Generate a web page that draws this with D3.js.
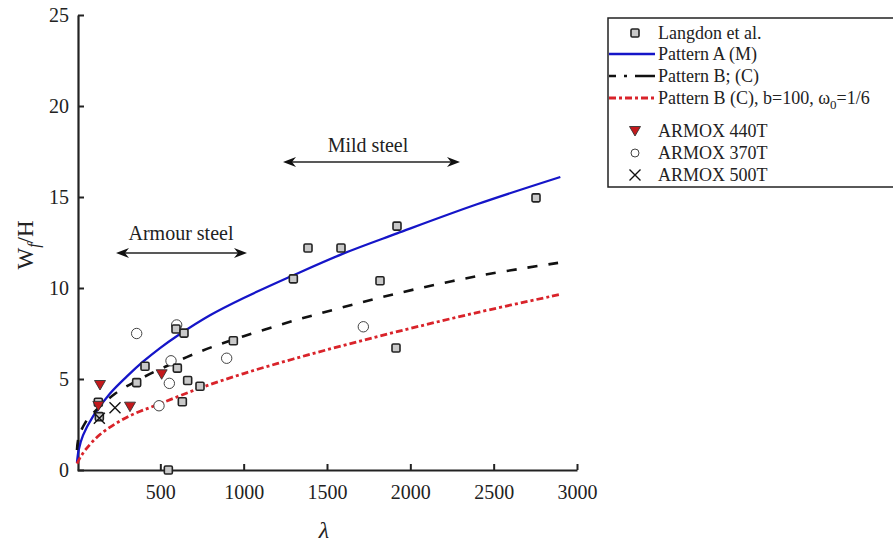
<!DOCTYPE html>
<html>
<head>
<meta charset="utf-8">
<script src="https://cdn.jsdelivr.net/npm/d3@7"></script>
<style>
  html, body { margin: 0; padding: 0; background: #fff; }
</style>
</head>
<body>
<svg id="chart" width="893" height="548"></svg>
<script>
// ---- data -------------------------------------------------------------
const xTicks = [500, 1000, 1500, 2000, 2500, 3000];
const yTicks = [0, 5, 10, 15, 20, 25];

// Langdon et al. experiments: [lambda, Wf/H]
const langdon = [
  [128, 3.72], [134, 2.93], [358, 4.8], [408, 5.7], [594, 7.75], [642, 7.52],
  [602, 5.6], [664, 4.92], [738, 4.6], [632, 3.75], [938, 7.1], [548, 0],
  [1298, 10.5], [1386, 12.2], [1584, 12.2], [1818, 10.4], [1920, 13.4],
  [1914, 6.7], [2754, 14.95]
];
const armox440 = [[138, 4.67], [128, 3.52], [318, 3.48], [508, 5.26]];
const armox370 = [[358, 7.5], [598, 7.97], [564, 6.0], [554, 4.76], [492, 3.53], [898, 6.14], [1718, 7.87]];
const armox500 = [[228, 3.42], [134, 2.84]];

// model curves sampled along lambda
const patternA = [
  [0, 0.4], [10, 1.1], [36, 1.9], [96, 2.95], [198, 4.2], [298, 5.13], [396, 5.95],
  [498, 6.7], [598, 7.35], [798, 8.5], [1000, 9.45], [1298, 10.7], [1600, 11.9],
  [1920, 13.0], [2400, 14.6], [2900, 16.1]
];
const patternB = [
  [0, 1.1], [10, 1.8], [50, 2.6], [100, 3.15], [230, 4.2], [358, 4.9], [500, 5.55],
  [750, 6.55], [1000, 7.35], [1300, 8.2], [1600, 8.95], [1920, 9.7], [2400, 10.65], [2900, 11.4]
];
const patternBb100 = [
  [0, 0.35], [20, 0.7], [50, 1.1], [138, 1.95], [300, 2.9], [500, 3.65], [738, 4.5],
  [1000, 5.3], [1298, 6.1], [1600, 6.85], [1920, 7.6], [2400, 8.65], [2900, 9.65]
];

const legendLabels = [
  "Langdon et al.", "Pattern A (M)", "Pattern B; (C)", "Pattern B (C), b=100, ",
  "ARMOX 440T", "ARMOX 370T", "ARMOX 500T"
];

// ---- layout -----------------------------------------------------------
const FONT = "Liberation Serif";
const svg = d3.select("#chart").attr("font-family", FONT);
const x = d3.scaleLinear().domain([0, 3000]).range([77, 577]);
const y = d3.scaleLinear().domain([0, 25]).range([470, 15]);

const BLUE = "#1515c8", RED = "#d9232a", INK = "#222";

// axes (ticks pointing inward)
const xAxis = d3.axisBottom(x).tickValues(xTicks).tickFormat(d3.format("d"))
  .tickSizeInner(-6).tickSizeOuter(0).tickPadding(15);
const yAxis = d3.axisLeft(y).tickValues(yTicks).tickFormat(d3.format("d"))
  .tickSizeInner(-6).tickSizeOuter(0).tickPadding(9);

const gx = svg.append("g").attr("transform", "translate(0,470)").call(xAxis);
const gy = svg.append("g").attr("transform", "translate(78,0)").call(yAxis);
[gx, gy].forEach(g => {
  g.attr("font-family", FONT).attr("font-size", 20);
  g.select(".domain").attr("stroke", INK).attr("stroke-width", 2.2);
  g.selectAll(".tick line").attr("stroke", INK).attr("stroke-width", 2);
  g.selectAll(".tick text").attr("fill", "#222").attr("font-family", FONT).attr("font-size", 20);
});

// axis titles
svg.append("text").attr("x", 324).attr("y", 538).attr("text-anchor", "middle")
  .attr("font-family", FONT).attr("font-size", 24).attr("font-style", "italic")
  .attr("fill", "#222").text("λ");

const yl = svg.append("text").attr("transform", "translate(33,245) rotate(-90)")
  .attr("text-anchor", "middle").attr("font-family", FONT).attr("font-size", 23).attr("fill", "#222");
yl.append("tspan").text("W");
yl.append("tspan").attr("font-size", 16).attr("dy", 6).attr("font-style", "italic").text("f");
yl.append("tspan").attr("dy", -6).text("/H");

// ---- curves -----------------------------------------------------------
const line = d3.line().x(d => x(d[0])).y(d => y(d[1])).curve(d3.curveCatmullRom.alpha(0.5));

svg.append("path").datum(patternA).attr("d", line).attr("fill", "none")
  .attr("stroke", BLUE).attr("stroke-width", 2.3);
svg.append("path").datum(patternB).attr("d", line).attr("fill", "none")
  .attr("stroke", "#111").attr("stroke-width", 2.6).attr("stroke-dasharray", "10,11");
svg.append("path").datum(patternBb100).attr("d", line).attr("fill", "none")
  .attr("stroke", RED).attr("stroke-width", 2.8).attr("stroke-dasharray", "7,3,3,3");

// ---- annotations ------------------------------------------------------
function dblArrow(x1, x2, yy) {
  svg.append("line").attr("x1", x1 + 4).attr("x2", x2 - 4).attr("y1", yy).attr("y2", yy)
    .attr("stroke", "#222").attr("stroke-width", 1.3);
  const head = (tip, dir) => `M${tip},${yy} L${tip + dir * 13},${yy - 5} L${tip + dir * 9},${yy} L${tip + dir * 13},${yy + 5} Z`;
  svg.append("path").attr("d", head(x1, 1)).attr("fill", "#111");
  svg.append("path").attr("d", head(x2, -1)).attr("fill", "#111");
}
dblArrow(283, 460, 162);
svg.append("text").attr("x", 368).attr("y", 152).attr("text-anchor", "middle")
  .attr("font-family", FONT).attr("font-size", 20).attr("fill", "#222").text("Mild steel");
dblArrow(116, 247, 253);
svg.append("text").attr("x", 181).attr("y", 240).attr("text-anchor", "middle")
  .attr("font-family", FONT).attr("font-size", 20).attr("fill", "#222").text("Armour steel");

// ---- markers ----------------------------------------------------------
function square(g, cx, cy) {
  g.append("rect").attr("x", cx - 4).attr("y", cy - 4).attr("width", 8).attr("height", 8)
    .attr("rx", 1.3).attr("fill", "#c9c9c9").attr("stroke", "#222").attr("stroke-width", 1.6);
}
function triangle(g, cx, cy) {
  g.append("path").attr("d", `M${cx - 5.5},${cy - 4.5} L${cx + 5.5},${cy - 4.5} L${cx},${cy + 5} Z`)
    .attr("fill", "#c4191c").attr("stroke", "#333").attr("stroke-width", 0.9);
}
function circle(g, cx, cy, r) {
  g.append("circle").attr("cx", cx).attr("cy", cy).attr("r", r || 5.2)
    .attr("fill", "#fff").attr("stroke", "#444").attr("stroke-width", 1);
}
function cross(g, cx, cy) {
  g.append("path").attr("d", `M${cx - 5.5},${cy - 5.5} L${cx + 5.5},${cy + 5.5} M${cx - 5.5},${cy + 5.5} L${cx + 5.5},${cy - 5.5}`)
    .attr("stroke", "#111").attr("stroke-width", 1.4).attr("fill", "none");
}

const pts = svg.append("g");
armox370.forEach(d => circle(pts, x(d[0]), y(d[1])));
langdon.forEach(d => square(pts, x(d[0]), y(d[1])));
armox440.forEach(d => triangle(pts, x(d[0]), y(d[1])));
armox500.forEach(d => cross(pts, x(d[0]), y(d[1])));

// ---- legend -----------------------------------------------------------
const lg = svg.append("g");
lg.append("rect").attr("x", 608).attr("y", 18).attr("width", 300).attr("height", 169)
  .attr("fill", "#fff").attr("stroke", "#222").attr("stroke-width", 1.5);
const rowY = [33, 54, 76, 98, 131, 153, 175];
const tx = 658, mx = 635;
legendLabels.forEach((t, i) => {
  const txt = lg.append("text").attr("x", tx).attr("y", rowY[i] + 6)
    .attr("font-family", FONT).attr("font-size", 18).attr("fill", "#222").text(t);
  if (i === 3) {
    txt.append("tspan").text("ω");
    txt.append("tspan").attr("font-size", 13).attr("dy", 5).text("0");
    txt.append("tspan").attr("dy", -5).text("=1/6");
  }
});
square(lg, mx, rowY[0]);
lg.append("line").attr("x1", 609).attr("x2", 655).attr("y1", rowY[1]).attr("y2", rowY[1])
  .attr("stroke", BLUE).attr("stroke-width", 2.3);
lg.append("line").attr("x1", 609).attr("x2", 655).attr("y1", rowY[2]).attr("y2", rowY[2])
  .attr("stroke", "#111").attr("stroke-width", 2.6).attr("stroke-dasharray", "7,8,3,8,20");
lg.append("line").attr("x1", 609).attr("x2", 655).attr("y1", rowY[3]).attr("y2", rowY[3])
  .attr("stroke", RED).attr("stroke-width", 2.8).attr("stroke-dasharray", "7,3,3,3");
triangle(lg, mx, rowY[4]);
circle(lg, mx, rowY[5], 4);
cross(lg, mx, rowY[6]);
</script>
</body>
</html>
